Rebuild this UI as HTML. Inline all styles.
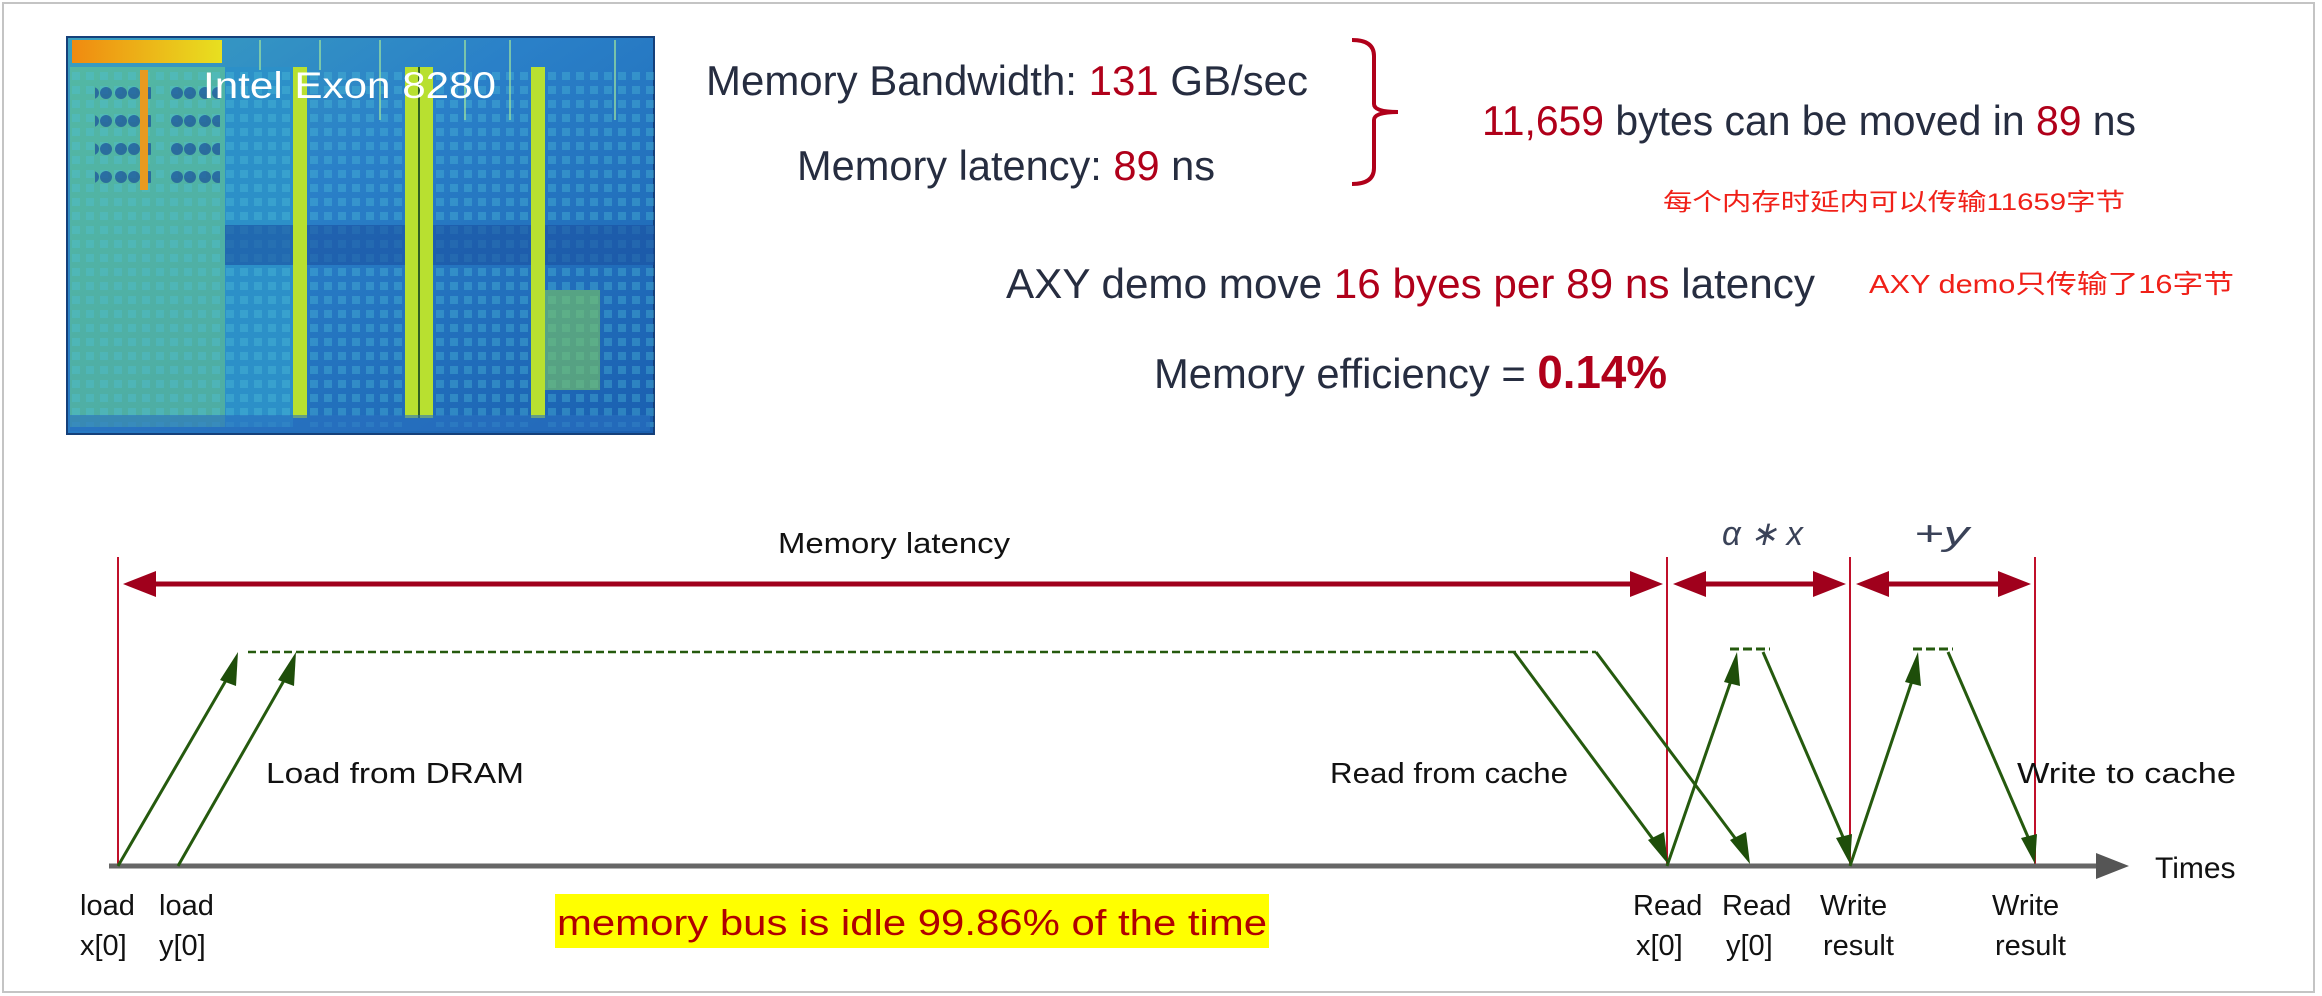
<!DOCTYPE html>
<html><head><meta charset="utf-8"><style>
html,body{margin:0;padding:0;background:#fff;}
svg{display:block;}
text{font-family:"Liberation Sans","Noto Sans CJK SC",sans-serif;}
</style></head><body>
<svg width="2322" height="996" viewBox="0 0 2322 996" xmlns="http://www.w3.org/2000/svg">
<defs>
<linearGradient id="chipbg" x1="0" y1="0" x2="1" y2="1">
<stop offset="0" stop-color="#3aa0c0"/><stop offset="0.4" stop-color="#2a80c8"/><stop offset="1" stop-color="#1a5fb0"/>
</linearGradient>
<linearGradient id="orange" x1="0" y1="0" x2="1" y2="0">
<stop offset="0" stop-color="#f08a10"/><stop offset="1" stop-color="#e8e020"/>
</linearGradient>
<pattern id="grid" width="14" height="14" patternUnits="userSpaceOnUse">
<rect width="14" height="14" fill="none"/><rect x="2" y="2" width="8" height="8" fill="#4cc0d8" opacity="0.35"/>
</pattern>
<pattern id="dots" width="28" height="28" patternUnits="userSpaceOnUse">
<circle cx="9" cy="9" r="6" fill="#1a4f9a" opacity="0.7"/><circle cx="22" cy="9" r="6" fill="#1a4f9a" opacity="0.7"/>
</pattern>
</defs>
<rect x="3" y="3" width="2311" height="989" fill="#fff" stroke="#c4c4c4" stroke-width="2"/>

<!-- chip -->
<rect x="67" y="37" width="587" height="397" fill="url(#chipbg)" stroke="#15407a" stroke-width="2"/>
<rect x="70" y="67" width="155" height="360" fill="#5cc09a" opacity="0.75"/>
<rect x="70" y="67" width="155" height="360" fill="url(#grid)"/>
<rect x="95" y="75" width="56" height="110" fill="url(#dots)"/>
<rect x="170" y="75" width="50" height="110" fill="url(#dots)"/>
<rect x="225" y="67" width="68" height="360" fill="#2c90c8"/>
<rect x="225" y="67" width="68" height="360" fill="url(#grid)"/>
<rect x="307" y="67" width="98" height="360" fill="url(#grid)"/>
<rect x="433" y="67" width="98" height="360" fill="url(#grid)"/>
<rect x="545" y="67" width="109" height="360" fill="url(#grid)"/>
<rect x="72" y="40" width="150" height="23" fill="url(#orange)"/>
<rect x="140" y="70" width="8" height="120" fill="#e89a20"/>
<rect x="225" y="225" width="429" height="40" fill="#1a50a0" opacity="0.6"/>
<rect x="293" y="67" width="14" height="351" fill="#b8e030"/>
<rect x="405" y="67" width="28" height="351" fill="#b8e030"/>
<rect x="418" y="67" width="2" height="351" fill="#306020"/>
<rect x="531" y="67" width="14" height="351" fill="#b8e030"/>
<rect x="545" y="290" width="55" height="100" fill="#7cc860" opacity="0.6"/>
<g stroke="#9ae0a0" stroke-width="2" opacity="0.7">
<line x1="260" y1="40" x2="260" y2="70"/><line x1="320" y1="40" x2="320" y2="70"/>
<line x1="380" y1="40" x2="380" y2="120"/><line x1="465" y1="40" x2="465" y2="120"/>
<line x1="510" y1="40" x2="510" y2="120"/><line x1="615" y1="40" x2="615" y2="120"/>
</g>
<rect x="70" y="415" width="580" height="16" fill="#2a70c0" opacity="0.6"/>
<text x="203" y="98" font-size="37" fill="#fff" textLength="293" lengthAdjust="spacingAndGlyphs">Intel Exon 8280</text>

<!-- top texts -->
<text x="706" y="95" font-size="42" fill="#262d40" textLength="602" lengthAdjust="spacingAndGlyphs">Memory Bandwidth: <tspan fill="#b0001a">131</tspan> GB/sec</text>
<text x="797" y="180" font-size="42" fill="#262d40" textLength="418" lengthAdjust="spacingAndGlyphs">Memory latency: <tspan fill="#b0001a">89</tspan> ns</text>
<path d="M1352 40 Q1374 40 1374 56 L1374 104 Q1374 112 1398 112 Q1374 112 1374 120 L1374 168 Q1374 184 1352 184" fill="none" stroke="#b0001a" stroke-width="4"/>
<text x="1482" y="135" font-size="42" fill="#262d40" textLength="654" lengthAdjust="spacingAndGlyphs"><tspan fill="#b0001a">11,659</tspan> bytes can be moved in <tspan fill="#b0001a">89</tspan> ns</text>
<text x="1663" y="210" font-size="24" fill="#f02018" textLength="462" lengthAdjust="spacingAndGlyphs">每个内存时延内可以传输11659字节</text>
<text x="1006" y="298" font-size="42" fill="#262d40" textLength="809" lengthAdjust="spacingAndGlyphs">AXY demo move <tspan fill="#b0001a">16 byes per 89 ns</tspan> latency</text>
<text x="1869" y="293" font-size="26" fill="#f02018" textLength="365" lengthAdjust="spacingAndGlyphs">AXY demo只传输了16字节</text>
<text x="1154" y="388" font-size="42" fill="#262d40" textLength="513" lengthAdjust="spacingAndGlyphs">Memory efficiency = <tspan fill="#b0001a" font-weight="bold" font-size="46">0.14%</tspan></text>

<!-- diagram red lines -->
<g stroke="#c0102a" stroke-width="2">
<line x1="118" y1="557" x2="118" y2="866"/>
<line x1="1667" y1="557" x2="1667" y2="866"/>
<line x1="1850" y1="557" x2="1850" y2="866"/>
<line x1="2035" y1="557" x2="2035" y2="866"/>
</g>
<g fill="#a0001c" stroke="#a0001c" stroke-width="5">
<line x1="140" y1="584" x2="1640" y2="584"/>
<polygon points="123,584 156,571 156,597" stroke="none"/>
<polygon points="1663,584 1630,571 1630,597" stroke="none"/>
<line x1="1690" y1="584" x2="1828" y2="584"/>
<polygon points="1673,584 1706,571 1706,597" stroke="none"/>
<polygon points="1846,584 1813,571 1813,597" stroke="none"/>
<line x1="1873" y1="584" x2="2013" y2="584"/>
<polygon points="1856,584 1889,571 1889,597" stroke="none"/>
<polygon points="2031,584 1998,571 1998,597" stroke="none"/>
</g>
<text x="778" y="553" font-size="29" fill="#111" textLength="232" lengthAdjust="spacingAndGlyphs">Memory latency</text>
<text x="1722" y="545" font-size="34" fill="#3a4258" font-family="Liberation Serif,serif" font-style="italic" textLength="81" lengthAdjust="spacingAndGlyphs">α ∗ x</text>
<text x="1914" y="545" font-size="34" fill="#3a4258" font-family="Liberation Serif,serif" font-style="italic" textLength="55" lengthAdjust="spacingAndGlyphs">+y</text>

<!-- axis -->
<line x1="109" y1="866" x2="2100" y2="866" stroke="#666" stroke-width="5"/>
<polygon points="2129,866 2096,853 2096,879" fill="#555"/>
<text x="2155" y="878" font-size="30" fill="#111">Times</text>

<!-- green -->
<g stroke="#255a0e" stroke-width="3" fill="none">
<line x1="248" y1="652" x2="1596" y2="652" stroke-dasharray="8,4" stroke-width="2.5"/>
<line x1="1730" y1="649" x2="1770" y2="649" stroke-dasharray="9,4"/>
<line x1="1913" y1="649" x2="1953" y2="649" stroke-dasharray="9,4"/>
<line x1="118" y1="866" x2="232" y2="670"/>
<line x1="178" y1="866" x2="290" y2="670"/>
<line x1="1514" y1="652" x2="1658" y2="846"/>
<line x1="1596" y1="652" x2="1741" y2="846"/>
<line x1="1667" y1="866" x2="1734" y2="672"/>
<line x1="1763" y1="652" x2="1846" y2="844"/>
<line x1="1850" y1="866" x2="1915" y2="672"/>
<line x1="1948" y1="652" x2="2031" y2="844"/>
</g>
<g fill="#1e4e0a">
<polygon points="238,652 236,686 220,680"/>
<polygon points="296,652 294,686 278,680"/>
<polygon points="1668,864 1648,840 1664,832"/>
<polygon points="1750,864 1730,840 1746,832"/>
<polygon points="1737,652 1740,686 1724,682"/>
<polygon points="1850,864 1836,838 1852,834"/>
<polygon points="1918,652 1921,686 1905,682"/>
<polygon points="2035,864 2021,838 2037,834"/>
</g>

<text x="266" y="783" font-size="29" fill="#111" textLength="258" lengthAdjust="spacingAndGlyphs">Load from DRAM</text>
<text x="1330" y="783" font-size="29" fill="#111" textLength="238" lengthAdjust="spacingAndGlyphs">Read from cache</text>
<text x="2017" y="783" font-size="29" fill="#111" textLength="219" lengthAdjust="spacingAndGlyphs">Write to cache</text>

<g font-size="29" fill="#111">
<text x="80" y="915">load</text><text x="80" y="955">x[0]</text>
<text x="159" y="915">load</text><text x="159" y="955">y[0]</text>
<text x="1633" y="915">Read</text><text x="1636" y="955">x[0]</text>
<text x="1722" y="915">Read</text><text x="1726" y="955">y[0]</text>
<text x="1820" y="915">Write</text><text x="1823" y="955">result</text>
<text x="1992" y="915">Write</text><text x="1995" y="955">result</text>
</g>

<rect x="555" y="894" width="714" height="54" fill="#ffff00"/>
<text x="557" y="935" font-size="36" fill="#b00000" textLength="710" lengthAdjust="spacingAndGlyphs">memory bus is idle 99.86% of the time</text>
</svg>
</body></html>
